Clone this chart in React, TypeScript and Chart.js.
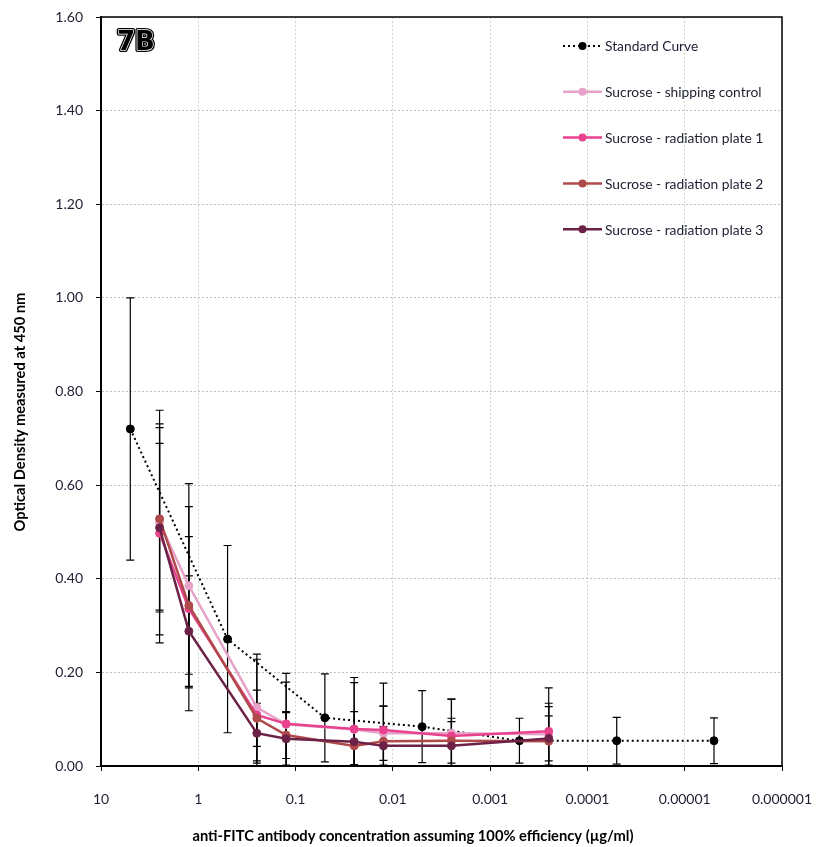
import React, { useEffect, useRef } from "react";
import { Chart, registerables } from "chart.js";

Chart.register(...registerables);

// ---- data ----
const xTickValues = [10, 1, 0.1, 0.01, 0.001, 0.0001, 0.00001, 0.000001];
const xTickLabels = ["10", "1", "0.1", "0.01", "0.001", "0.0001", "0.00001", "0.000001"];

const standardConc = [5, 0.5, 0.05, 0.005, 0.0005, 0.00005, 0.000005];
const standardOD = [0.72, 0.271, 0.103, 0.084, 0.054, 0.054, 0.054];
const standardErr = [0.28, 0.2, 0.094, 0.077, 0.048, 0.05, 0.049];

const sucroseConc = [2.5, 1.25, 0.25, 0.125, 0.025, 0.0125, 0.0025, 0.00025];
const shippingOD = [0.52, 0.385, 0.125, 0.089, 0.078, 0.07, 0.07, 0.068];
const shippingErr = [0.24, 0.218, 0.114, 0.09, 0.1, 0.058, 0.073, 0.066];
const plate1OD = [0.497, 0.336, 0.109, 0.09, 0.079, 0.077, 0.064, 0.074];
const plate1Err = [0.234, 0.218, 0.119, 0.108, 0.11, 0.1, 0.079, 0.093];
const plate2OD = [0.528, 0.343, 0.102, 0.066, 0.043, 0.053, 0.054, 0.053];
const plate2Err = [0.195, 0.147, 0.06, 0.05, 0.04, 0.075, 0.048, 0.074];
const plate3OD = [0.509, 0.288, 0.07, 0.058, 0.052, 0.043, 0.043, 0.059];
const plate3Err = [0.18, 0.118, 0.064, 0.056, 0.064, 0.041, 0.052, 0.048];

const seriesNames = [
  "Standard Curve",
  "Sucrose - shipping control",
  "Sucrose - radiation plate 1",
  "Sucrose - radiation plate 2",
  "Sucrose - radiation plate 3",
];
const seriesColors = ["#000000", "#E6A2C8", "#E8428E", "#B04A4A", "#6B2246"];
const panelLabel = "7B";
const yTitle = "Optical Density measured at 450 nm";
const xTitle = "anti-FITC antibody concentration assuming 100% efficiency (\u00B5g/ml)";

const FONT = "Lato, 'Open Sans', sans-serif";

function pts(xs: number[], ys: number[]) {
  return xs.map((x, i) => ({ x, y: ys[i] }));
}

const errorBarPlugin = {
  id: "errorBars",
  beforeDatasetsDraw(chart: any) {
    const { ctx, chartArea, scales } = chart;
    const ys = scales.y;
    ctx.save();
    ctx.beginPath();
    ctx.rect(chartArea.left, chartArea.top, chartArea.right - chartArea.left, chartArea.bottom - chartArea.top + 1);
    ctx.clip();
    ctx.strokeStyle = "#000";
    ctx.lineWidth = 1.2;
    chart.data.datasets.forEach((ds: any, di: number) => {
      const meta = chart.getDatasetMeta(di);
      const errs: number[] = ds.errors || [];
      meta.data.forEach((el: any, i: number) => {
        const v = ds.data[i].y;
        const e = errs[i];
        if (e == null) return;
        const x = el.x;
        const yt = ys.getPixelForValue(v + e);
        const yb = ys.getPixelForValue(v - e);
        ctx.beginPath();
        ctx.moveTo(x, yt);
        ctx.lineTo(x, yb);
        ctx.moveTo(x - 4, yt);
        ctx.lineTo(x + 4, yt);
        ctx.moveTo(x - 4, yb);
        ctx.lineTo(x + 4, yb);
        ctx.stroke();
      });
    });
    ctx.restore();
  },
};

const framePlugin = {
  id: "frameLegend",
  afterDraw(chart: any) {
    const { ctx, chartArea } = chart;
    ctx.save();
    // frame
    ctx.strokeStyle = "#000";
    ctx.lineWidth = 1.5;
    ctx.strokeRect(chartArea.left, chartArea.top, chartArea.right - chartArea.left, chartArea.bottom - chartArea.top);

    // axis titles
    ctx.font = "bold 14.7px " + FONT;
    ctx.fillStyle = "#000";
    ctx.textAlign = "center";
    ctx.textBaseline = "middle";
    ctx.fillText(xTitle, 413, 836);
    ctx.save();
    ctx.translate(20, 412);
    ctx.rotate(-Math.PI / 2);
    ctx.fillText(yTitle, 0, 0);
    ctx.restore();

    // panel label
    ctx.font = "bold 26px 'DejaVu Sans', sans-serif";
    ctx.textBaseline = "alphabetic";
    ctx.textAlign = "left";
    ctx.lineJoin = "round";
    const lx = chartArea.left + 16;
    const ly = chartArea.top + 33;
    ctx.lineWidth = 4;
    ctx.strokeStyle = "#000";
    ctx.strokeText(panelLabel, lx, ly);
    ctx.lineWidth = 1.4;
    ctx.strokeStyle = "#fff";
    ctx.strokeText(panelLabel, lx, ly);
    ctx.fillStyle = "#000";
    ctx.fillText(panelLabel, lx, ly);

    // legend
    const x0 = 563;
    const x1 = 602;
    ctx.font = "13.8px " + FONT;
    ctx.textBaseline = "middle";
    seriesNames.forEach((name, i) => {
      const y = chartArea.top + 29 + i * 45.8;
      const col = seriesColors[i];
      ctx.beginPath();
      ctx.strokeStyle = col;
      ctx.lineWidth = i === 0 ? 2 : 2.5;
      ctx.setLineDash(i === 0 ? [2, 3] : []);
      ctx.moveTo(x0, y);
      ctx.lineTo(x1, y);
      ctx.stroke();
      ctx.setLineDash([]);
      ctx.beginPath();
      ctx.fillStyle = col;
      ctx.arc((x0 + x1) / 2, y, 4, 0, Math.PI * 2);
      ctx.fill();
      ctx.fillStyle = "#1E1E30";
      ctx.fillText(name, x1 + 3, y + 1);
    });
    ctx.restore();
  },
};

export default function App() {
  const ref = useRef<HTMLCanvasElement | null>(null);
  useEffect(() => {
    if (!ref.current) return;
    const mk = (i: number, data: any, errors: number[], order: number) => ({
      label: seriesNames[i],
      data,
      errors,
      order,
      borderColor: seriesColors[i],
      backgroundColor: seriesColors[i],
      pointBackgroundColor: seriesColors[i],
      pointBorderColor: seriesColors[i],
      pointRadius: 4,
      pointBorderWidth: 1,
      borderWidth: i === 0 ? 2 : 2.5,
      borderDash: i === 0 ? [2, 3] : [],
      tension: 0,
      showLine: true,
    });
    const chart = new Chart(ref.current, {
      type: "scatter",
      data: {
        datasets: [
          mk(0, pts(standardConc, standardOD), standardErr, 5),
          mk(1, pts(sucroseConc, shippingOD), shippingErr, 4),
          mk(2, pts(sucroseConc, plate1OD), plate1Err, 3),
          mk(3, pts(sucroseConc, plate2OD), plate2Err, 2),
          mk(4, pts(sucroseConc, plate3OD), plate3Err, 1),
        ] as any,
      },
      options: {
        animation: false,
        responsive: false,
        layout: { padding: { left: 0, top: 17, right: 34, bottom: 0 } },
        plugins: { legend: { display: false }, tooltip: { enabled: false } },
        scales: {
          x: {
            type: "logarithmic",
            position: "bottom",
            reverse: true,
            min: 0.000001,
            max: 10,
            afterBuildTicks: (scale: any) => {
              scale.ticks = xTickValues.map((v) => ({ value: v }));
            },
            afterFit: (scale: any) => {
              scale.height = 81;
              scale.paddingLeft = 0;
              scale.paddingRight = 0;
            },
            ticks: {
              autoSkip: false,
              maxRotation: 0,
              padding: 20,
              color: "#1E1E30",
              font: { family: FONT, size: 14 },
              callback: (value: any) => {
                const idx = xTickValues.findIndex(
                  (v) => Math.abs(Math.log10(v) - Math.log10(Number(value))) < 1e-6
                );
                return idx >= 0 ? xTickLabels[idx] : "";
              },
            },
            grid: {
              color: "#C4DEC4",
              lineWidth: 1,
              tickLength: 5,
              tickColor: "#000",
              tickWidth: 1,
              tickBorderDash: [],
            } as any,
            border: { display: true, color: "#000", width: 2, dash: [2, 2] } as any,
            title: { display: false },
          },
          y: {
            type: "linear",
            min: 0,
            max: 1.6,
            afterFit: (scale: any) => {
              scale.width = 101;
              scale.paddingTop = 0;
              scale.paddingBottom = 0;
            },
            ticks: {
              stepSize: 0.2,
              padding: 13,
              color: "#1E1E30",
              font: { family: FONT, size: 14 },
              callback: (v: any) => Number(v).toFixed(2),
            },
            grid: {
              color: "#BFBFBF",
              lineWidth: 1,
              tickLength: 5,
              tickColor: "#000",
              tickWidth: 1,
              tickBorderDash: [],
            } as any,
            border: { display: true, color: "#000", width: 2, dash: [2, 2] } as any,
            title: { display: false },
          },
        },
      } as any,
      plugins: [errorBarPlugin, framePlugin],
    });
    return () => chart.destroy();
  }, []);
  return (
    <div style={{ position: "absolute", left: 0, top: 0, width: 816, height: 847 }}>
      <canvas ref={ref} width={816} height={847} style={{ display: "block" }} />
    </div>
  );
}
